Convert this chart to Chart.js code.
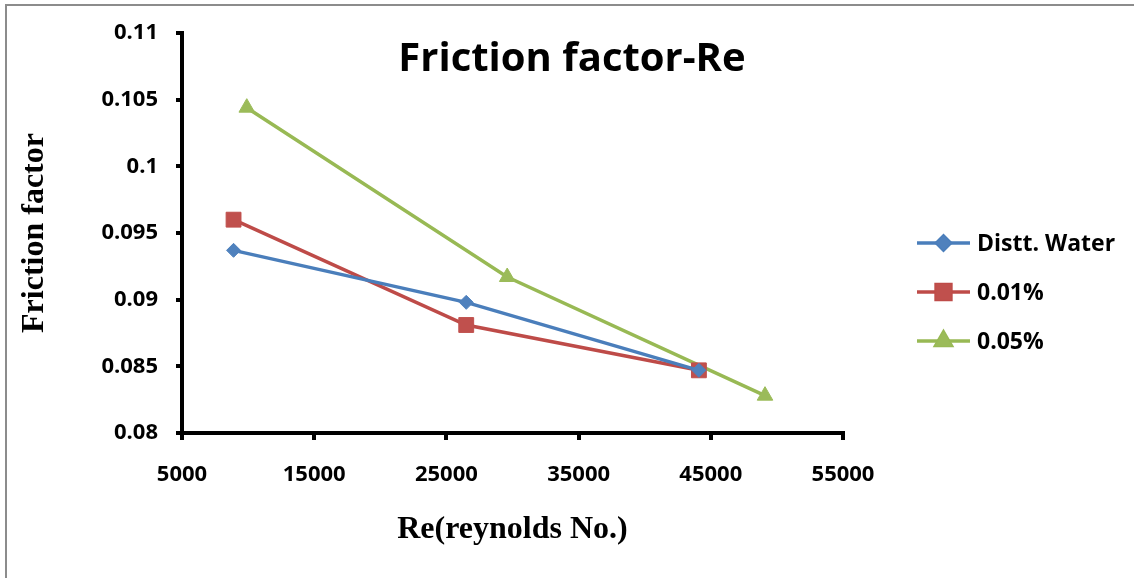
<!DOCTYPE html>
<html>
<head>
<meta charset="utf-8">
<title>Friction factor-Re</title>
<script src="https://cdn.jsdelivr.net/npm/chart.js@4.4.1/dist/chart.umd.min.js"></script>
<style>
  html, body { margin: 0; padding: 0; background: #ffffff; }
  #wrap { position: relative; width: 1134px; height: 578px; }
  canvas { display: block; }
</style>
</head>
<body>
<div id="wrap"><canvas id="chart" width="1134" height="578"></canvas></div>
<script>
// Reynolds number and measured friction factor for each fluid
const seriesNames = ['Distt. Water', '0.01%', '0.05%'];
const reWater = [8900, 26500, 44100];
const fWater = [0.0937, 0.0898, 0.0847];
const re001 = [8900, 26500, 44100];
const f001 = [0.0960, 0.0881, 0.0847];
const re005 = [9900, 29600, 49100];
const f005 = [0.1044, 0.0917, 0.0828];

const xTickLabels = ['5000', '15000', '25000', '35000', '45000', '55000'];
const yTickLabels = ['0.08', '0.085', '0.09', '0.095', '0.1', '0.105', '0.11'];

const toPoints = (xs, ys) => xs.map((x, i) => ({ x: x, y: ys[i] }));

const TICK_FONT = { family: '"Open Sans", sans-serif', size: 22, weight: 'bold' };
const AXIS_TITLE_FONT = { family: '"Liberation Serif", "Times New Roman", serif', size: 32, weight: 'bold' };

// Thin grey frame along the top and left edge of the figure
const framePlugin = {
  id: 'frame',
  beforeDraw(chart) {
    const ctx = chart.ctx;
    ctx.save();
    ctx.strokeStyle = '#8c8c8c';
    ctx.lineWidth = 2;
    ctx.beginPath();
    ctx.moveTo(6, 578);
    ctx.lineTo(6, 5);
    ctx.lineTo(1134, 5);
    ctx.stroke();
    ctx.restore();
  }
};

// Title drawn over the upper part of the plot area
const overlayTitle = {
  id: 'overlayTitle',
  afterDraw(chart) {
    const ctx = chart.ctx;
    const a = chart.chartArea;
    ctx.save();
    ctx.font = 'bold 40px "Open Sans", sans-serif';
    ctx.fillStyle = '#000000';
    ctx.textAlign = 'center';
    ctx.textBaseline = 'middle';
    ctx.fillText('Friction factor-Re', a.left + 390, a.top + 27);
    ctx.restore();
  }
};

// Legend to the right of the plot: line sample with marker, then label
const sideLegend = {
  id: 'sideLegend',
  afterDraw(chart) {
    const ctx = chart.ctx;
    const a = chart.chartArea;
    const x0 = a.right + 74;
    const x1 = x0 + 53;
    ctx.save();
    chart.data.datasets.forEach((ds, i) => {
      const y = 243 + i * 49;
      ctx.strokeStyle = ds.borderColor;
      ctx.lineWidth = ds.borderWidth;
      ctx.beginPath();
      ctx.moveTo(x0, y);
      ctx.lineTo(x1, y);
      ctx.stroke();
      Chart.helpers.drawPoint(ctx, {
        pointStyle: ds.pointStyle,
        radius: ds.pointRadius,
        borderWidth: 1,
        rotation: 0
      }, (x0 + x1) / 2, y);
      ctx.fillStyle = ds.pointBackgroundColor;
      ctx.strokeStyle = ds.pointBorderColor;
      ctx.lineWidth = 1;
      ctx.fill();
      ctx.stroke();
      ctx.fillStyle = '#000000';
      ctx.font = 'bold 23px "Open Sans", sans-serif';
      ctx.textAlign = 'left';
      ctx.textBaseline = 'middle';
      ctx.fillText(ds.label, x1 + 7, y + 1);
    });
    ctx.restore();
  }
};

const makeSeries = (label, xs, ys, line, fill, style, radius) => ({
  label: label,
  data: toPoints(xs, ys),
  showLine: true,
  borderColor: line,
  borderWidth: 3.5,
  pointStyle: style,
  pointRadius: radius,
  pointHoverRadius: radius,
  pointBackgroundColor: fill,
  pointBorderColor: fill,
  pointBorderWidth: 1
});

new Chart(document.getElementById('chart'), {
  type: 'scatter',
  data: {
    datasets: [
      makeSeries(seriesNames[0], reWater, fWater, '#4a7ebb', '#4f81bd', 'rectRot', 7),
      makeSeries(seriesNames[1], re001, f001, '#be4b48', '#c0504d', 'rect', 10.5),
      makeSeries(seriesNames[2], re005, f005, '#98b954', '#9bbb59', 'triangle', 9)
    ]
  },
  options: {
    responsive: false,
    animation: false,
    layout: { padding: { left: 0, top: 33, right: 291, bottom: 0 } },
    plugins: {
      legend: { display: false },
      title: { display: false },
      tooltip: { enabled: false }
    },
    scales: {
      x: {
        type: 'linear',
        min: 5000,
        max: 55000,
        afterFit(scale) { scale.height = 145; },
        afterBuildTicks(scale) {
          scale.ticks = xTickLabels.map((t, i) => ({ value: 5000 + i * 10000 }));
        },
        ticks: {
          color: '#000000',
          font: TICK_FONT,
          padding: 22,
          maxRotation: 0,
          callback: (v, i) => xTickLabels[i]
        },
        grid: {
          drawOnChartArea: false,
          drawTicks: true,
          tickLength: 7,
          color: '#000000',
          lineWidth: 4
        },
        border: { display: true, color: '#000000', width: 4 },
        title: {
          display: true,
          text: 'Re(reynolds No.)',
          color: '#000000',
          font: AXIS_TITLE_FONT,
          padding: { top: 0, bottom: 29 }
        }
      },
      y: {
        type: 'linear',
        min: 0.08,
        max: 0.11,
        afterFit(scale) { scale.width = 182; },
        afterBuildTicks(scale) {
          scale.ticks = yTickLabels.map((t, i) => ({ value: 0.08 + i * 0.005 }));
        },
        ticks: {
          color: '#000000',
          font: TICK_FONT,
          padding: 18,
          callback: (v, i) => yTickLabels[i]
        },
        grid: {
          drawOnChartArea: false,
          drawTicks: true,
          tickLength: 6,
          color: '#000000',
          lineWidth: 4
        },
        border: { display: true, color: '#000000', width: 4 },
        title: {
          display: true,
          text: 'Friction factor',
          color: '#000000',
          font: AXIS_TITLE_FONT,
          padding: { top: 16, bottom: 0 }
        }
      }
    }
  },
  plugins: [framePlugin, overlayTitle, sideLegend]
});
</script>
</body>
</html>
